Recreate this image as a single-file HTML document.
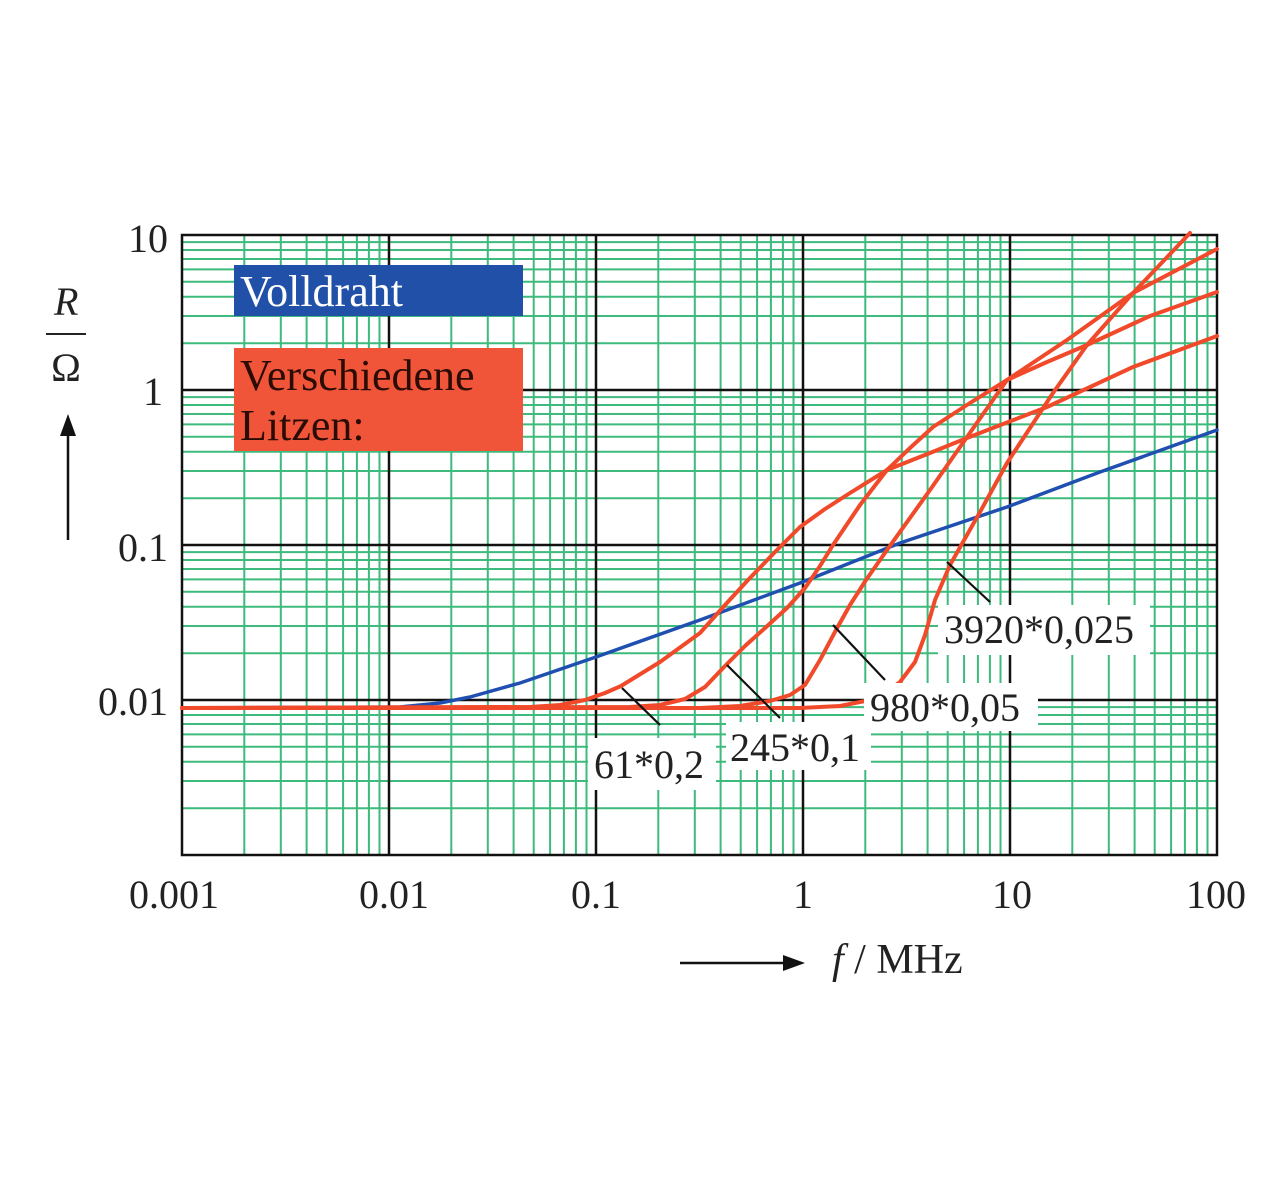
<!DOCTYPE html>
<html><head><meta charset="utf-8"><style>
html,body{margin:0;padding:0;background:#fff;}
svg{display:block;font-family:"Liberation Serif",serif;}
</style></head><body>
<svg width="1280" height="1190" viewBox="0 0 1280 1190" xmlns="http://www.w3.org/2000/svg">
<path fill="none" stroke="#3dba7c" stroke-width="2" d="
M244.3 235V855M280.8 235V855M306.6 235V855M326.7 235V855M343.1 235V855M356.9 235V855M368.9 235V855M379.5 235V855
M451.3 235V855M487.8 235V855M513.6 235V855M533.7 235V855M550.1 235V855M563.9 235V855M575.9 235V855M586.5 235V855
M658.3 235V855M694.8 235V855M720.6 235V855M740.7 235V855M757.1 235V855M770.9 235V855M782.9 235V855M793.5 235V855
M865.3 235V855M901.8 235V855M927.6 235V855M947.7 235V855M964.1 235V855M977.9 235V855M989.9 235V855M1000.5 235V855
M1072.3 235V855M1108.8 235V855M1134.6 235V855M1154.7 235V855M1171.1 235V855M1184.9 235V855M1196.9 235V855M1207.5 235V855
M182 808.3H1217M182 781H1217M182 761.7H1217M182 746.7H1217M182 734.4H1217M182 724H1217M182 715H1217M182 707.1H1217
M182 653.3H1217M182 626H1217M182 606.7H1217M182 591.7H1217M182 579.4H1217M182 569H1217M182 560H1217M182 552.1H1217
M182 498.3H1217M182 471H1217M182 451.7H1217M182 436.7H1217M182 424.4H1217M182 414H1217M182 405H1217M182 397.1H1217
M182 343.3H1217M182 316H1217M182 296.7H1217M182 281.7H1217M182 269.4H1217M182 259H1217M182 250H1217M182 242.1H1217"/>
<g stroke="#111" stroke-width="2.5">
<line x1="389" y1="235" x2="389" y2="855"/><line x1="596" y1="235" x2="596" y2="855"/>
<line x1="803" y1="235" x2="803" y2="855"/><line x1="1010" y1="235" x2="1010" y2="855"/>
<line x1="182" y1="390" x2="1217" y2="390"/><line x1="182" y1="545" x2="1217" y2="545"/>
<line x1="182" y1="700" x2="1217" y2="700"/>
<rect x="182" y="235" width="1035" height="620" fill="none"/>
</g>
<rect x="234" y="265" width="289" height="51" fill="#2150a8"/>
<text x="240" y="306" font-size="44" fill="#fff">Volldraht</text>
<rect x="234" y="348" width="289" height="103" fill="#f0553a"/>
<text x="240" y="390" font-size="44" fill="#2a0c05">Verschiedene</text>
<text x="240" y="440" font-size="44" fill="#2a0c05">Litzen:</text>
<g fill="none" stroke-linejoin="round" stroke-linecap="round">
<polyline stroke="#1f4fb0" stroke-width="3.5" points="182,708 400,707 440,703 470,697 520,683 596,657 700,620 800,583 900,543 1007,507 1100,472 1217,430"/>
<g stroke="#f04a2a" stroke-width="4">
<polyline points="182,708 530,707 560,705 585,700 605,693 621,686 660,662 700,633 725,605 748,580 775,552 800,527 825,509 850,493 887,470 930,453 967,438 1047,407 1133,367 1217,336"/>
<polyline points="182,708 630,707 660,705 685,699 705,687 725,666 745,646 765,628 787,608 805,588 820,566 833,545 860,505 887,470 910,448 933,427 970,403 1007,380 1067,340 1133,293 1217,249"/>
<polyline points="182,708 700,708 740,706 770,701 790,695 805,685 820,660 836,630 850,605 866,580 887,550 930,490 967,437 1007,380 1047,362 1087,345 1150,316 1217,292"/>
<polyline points="182,708 800,708 840,706 865,701 885,693 900,682 915,662 925,635 935,600 950,565 980,512 1007,463 1030,428 1053,393 1087,345 1133,293 1190,233"/>
</g>
</g>
<g stroke="#111" stroke-width="2.2">
<line x1="622" y1="688" x2="660" y2="725"/>
<line x1="727" y1="665" x2="780" y2="718"/>
<line x1="833" y1="625" x2="885" y2="680"/>
<line x1="947" y1="562" x2="990" y2="602"/>
</g>
<g fill="#fff">
<rect x="588" y="738" width="128" height="52"/>
<rect x="726" y="722" width="145" height="48"/>
<rect x="864" y="683" width="174" height="48"/>
<rect x="938" y="605" width="212" height="50"/>
</g>
<g font-size="40" fill="#222">
<text x="594" y="778">61*0,2</text>
<text x="730" y="761">245*0,1</text>
<text x="870" y="721">980*0,05</text>
<text x="944" y="643">3920*0,025</text>
</g>
<g font-size="40" fill="#222" text-anchor="end">
<text x="168" y="252">10</text>
<text x="163" y="405">1</text>
<text x="168" y="561">0.1</text>
<text x="168" y="715">0.01</text>
</g>
<g font-size="40" fill="#222" text-anchor="middle">
<text x="174" y="908">0.001</text>
<text x="394" y="908">0.01</text>
<text x="596" y="908">0.1</text>
<text x="803" y="908">1</text>
<text x="1012" y="908">10</text>
<text x="1216" y="908">100</text>
</g>
<text x="54" y="315" font-size="40" font-style="italic" fill="#222">R</text>
<line x1="46" y1="334" x2="86" y2="334" stroke="#222" stroke-width="2"/>
<text x="66" y="381" font-size="40" fill="#222" text-anchor="middle">Ω</text>
<line x1="68" y1="540" x2="68" y2="432" stroke="#111" stroke-width="2.5"/>
<polygon points="68,414 60,436 76,436" fill="#111"/>
<line x1="680" y1="963" x2="785" y2="963" stroke="#111" stroke-width="2.5"/>
<polygon points="805,963 783,955 783,971" fill="#111"/>
<text x="832" y="973" font-size="42" fill="#222"><tspan font-style="italic">f</tspan> / MHz</text>
</svg>
</body></html>
